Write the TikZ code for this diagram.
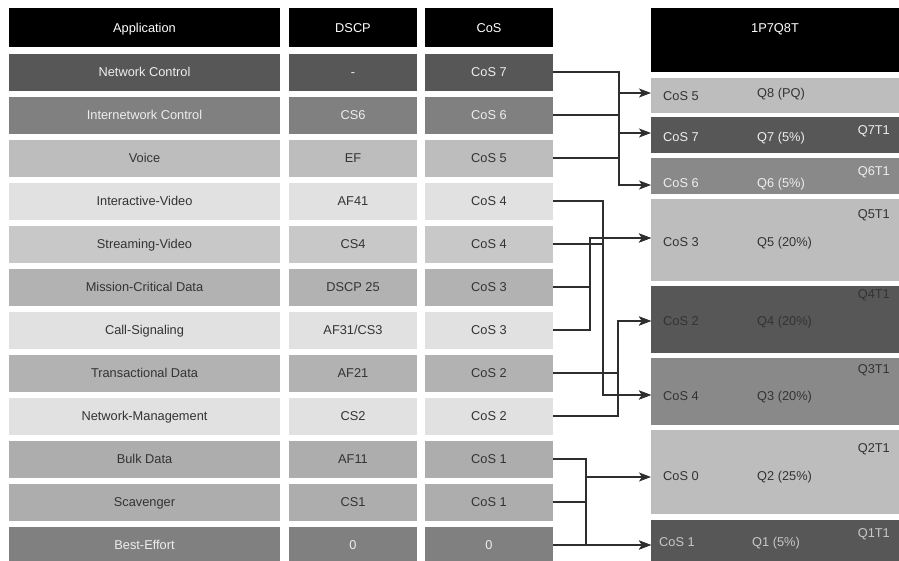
\documentclass[tikz,border=0pt]{standalone}
\usepackage{fontspec}
\setmainfont{Liberation Sans}
\usetikzlibrary{arrows.meta}
\definecolor{cDark}{HTML}{575757}
\definecolor{cMid}{HTML}{808080}
\definecolor{cMid2}{HTML}{898989}
\definecolor{cVoice}{HTML}{BDBDBD}
\definecolor{cLight}{HTML}{E1E1E1}
\definecolor{cStream}{HTML}{C8C8C8}
\definecolor{cMiss}{HTML}{B2B2B2}
\definecolor{cBulk}{HTML}{ADADAD}
\definecolor{txtD}{HTML}{333333}
\definecolor{txtL}{HTML}{EEEEEE}
\definecolor{txtL2}{HTML}{C8C8C8}
\definecolor{lineC}{HTML}{2E2E2E}
\begin{document}
\begin{tikzpicture}[x=1pt,y=-1pt,
  font=\fontsize{12.8}{15}\selectfont,
  every node/.style={text height=10.6pt, text depth=1.4pt},
  cell/.style={inner sep=0pt, outer sep=0pt, minimum height=37pt, text=txtD},
  appc/.style={cell, minimum width=271pt},
  numc/.style={cell, minimum width=128pt},
  hdr/.style={inner sep=0pt, outer sep=0pt, minimum height=39pt, fill=black, text=white},
  qbox/.style={inner sep=0pt, outer sep=0pt, anchor=north west, minimum width=248pt, text height=, text depth=},
  qtxt/.style={inner sep=0pt, anchor=west},
  ttxt/.style={inner sep=0pt, anchor=east},
  rDark/.style={fill=cDark, text=txtL},
  rMid/.style={fill=cMid, text=txtL},
  conn/.style={draw=lineC, line width=1.1pt},
  arr/.style={conn, -{Stealth[length=12pt,width=9pt,inset=3pt]}}]
\useasboundingbox (0,0) rectangle (899,560);
% headers
\node[hdr, minimum width=271pt] (h1) at (144.5,27.5) {Application};
\node[hdr, minimum width=128pt] (h2) at (353,27.5) {DSCP};
\node[hdr, minimum width=128pt] (h3) at (489,27.5) {CoS};
\node[qbox, minimum height=64pt, fill=black] (h4) at (651,8) {};
\node[inner sep=0pt, text=white] (h4t) at (775,28) {1P7Q8T};
% rows
\node[appc, rDark] (a0) at (144.5,72) {Network Control};
\node[numc, rDark] (d0) at (353,72) {-};
\node[numc, rDark] (c0) at (489,72) {CoS 7};
\node[appc, rMid] (a1) at (144.5,115) {Internetwork Control};
\node[numc, rMid] (d1) at (353,115) {CS6};
\node[numc, rMid] (c1) at (489,115) {CoS 6};
\node[appc, fill=cVoice] (a2) at (144.5,158) {Voice};
\node[numc, fill=cVoice] (d2) at (353,158) {EF};
\node[numc, fill=cVoice] (c2) at (489,158) {CoS 5};
\node[appc, fill=cLight] (a3) at (144.5,201) {Interactive-Video};
\node[numc, fill=cLight] (d3) at (353,201) {AF41};
\node[numc, fill=cLight] (c3) at (489,201) {CoS 4};
\node[appc, fill=cStream] (a4) at (144.5,244) {Streaming-Video};
\node[numc, fill=cStream] (d4) at (353,244) {CS4};
\node[numc, fill=cStream] (c4) at (489,244) {CoS 4};
\node[appc, fill=cMiss] (a5) at (144.5,287) {Mission-Critical Data};
\node[numc, fill=cMiss] (d5) at (353,287) {DSCP 25};
\node[numc, fill=cMiss] (c5) at (489,287) {CoS 3};
\node[appc, fill=cLight] (a6) at (144.5,330) {Call-Signaling};
\node[numc, fill=cLight] (d6) at (353,330) {AF31/CS3};
\node[numc, fill=cLight] (c6) at (489,330) {CoS 3};
\node[appc, fill=cMiss] (a7) at (144.5,373) {Transactional Data};
\node[numc, fill=cMiss] (d7) at (353,373) {AF21};
\node[numc, fill=cMiss] (c7) at (489,373) {CoS 2};
\node[appc, fill=cLight] (a8) at (144.5,416) {Network-Management};
\node[numc, fill=cLight] (d8) at (353,416) {CS2};
\node[numc, fill=cLight] (c8) at (489,416) {CoS 2};
\node[appc, fill=cBulk] (a9) at (144.5,459) {Bulk Data};
\node[numc, fill=cBulk] (d9) at (353,459) {AF11};
\node[numc, fill=cBulk] (c9) at (489,459) {CoS 1};
\node[appc, fill=cBulk] (a10) at (144.5,502) {Scavenger};
\node[numc, fill=cBulk] (d10) at (353,502) {CS1};
\node[numc, fill=cBulk] (c10) at (489,502) {CoS 1};
\node[appc, rMid] (a11) at (144.5,545) {Best-Effort};
\node[numc, rMid] (d11) at (353,545) {0};
\node[numc, rMid] (c11) at (489,545) {0};
% queue boxes
\node[qbox, fill=cVoice, minimum height=35pt] (q8) at (651,78) {};
\node[qbox, fill=cDark, minimum height=36pt] (q7) at (651,117) {};
\node[qbox, fill=cMid2, minimum height=36pt] (q6) at (651,158) {};
\node[qbox, fill=cVoice, minimum height=82pt] (q5) at (651,199) {};
\node[qbox, fill=cDark, minimum height=67pt] (q4) at (651,286) {};
\node[qbox, fill=cMid2, minimum height=67pt] (q3) at (651,358) {};
\node[qbox, fill=cVoice, minimum height=84pt] (q2) at (651,430) {};
\node[qbox, fill=cDark, minimum height=45pt] (q1) at (651,520) {};
% queue texts
\node[qtxt, text=txtD] (q8a) at (663,96) {CoS 5};
\node[qtxt, text=txtD] (q8b) at (757,93) {Q8 (PQ)};
\node[qtxt, text=txtL] (q7a) at (663,137) {CoS 7};
\node[qtxt, text=txtL] (q7b) at (757,137) {Q7 (5\%)};
\node[ttxt, text=txtL] (q7c) at (890,130) {Q7T1};
\node[qtxt, text=txtL] (q6a) at (663,183) {CoS 6};
\node[qtxt, text=txtL] (q6b) at (757,183) {Q6 (5\%)};
\node[ttxt, text=txtL] (q6c) at (890,171) {Q6T1};
\node[qtxt, text=txtD] (q5a) at (663,242) {CoS 3};
\node[qtxt, text=txtD] (q5b) at (757,242) {Q5 (20\%)};
\node[ttxt, text=txtD] (q5c) at (890,214) {Q5T1};
\node[qtxt, text=txtD] (q4a) at (663,321) {CoS 2};
\node[qtxt, text=txtD] (q4b) at (757,321) {Q4 (20\%)};
\node[ttxt, text=txtD] (q4c) at (890,294) {Q4T1};
\node[qtxt, text=txtD] (q3a) at (663,396) {CoS 4};
\node[qtxt, text=txtD] (q3b) at (757,396) {Q3 (20\%)};
\node[ttxt, text=txtD] (q3c) at (890,369) {Q3T1};
\node[qtxt, text=txtD] (q2a) at (663,476) {CoS 0};
\node[qtxt, text=txtD] (q2b) at (757,476) {Q2 (25\%)};
\node[ttxt, text=txtD] (q2c) at (890,448) {Q2T1};
\node[qtxt, text=txtL2] (q1a) at (659,542) {CoS 1};
\node[qtxt, text=txtL2] (q1b) at (752,542) {Q1 (5\%)};
\node[ttxt, text=txtL2] (q1c) at (890,533) {Q1T1};
% arrow targets and bus positions
\coordinate (t8) at (651,93);
\coordinate (t7) at (651,133);
\coordinate (t6) at (651,185);
\coordinate (t5) at (651,238);
\coordinate (t4) at (651,321);
\coordinate (t3) at (651,395);
\coordinate (t2) at (651,477);
\coordinate (t1) at (651,545);
\coordinate (bA) at (619,0);
\coordinate (bB) at (590,0);
\coordinate (bC) at (603,0);
\coordinate (bD) at (618,0);
\coordinate (bE) at (586,0);
% connectors
\draw[arr] (c0.east) -- (c0.east -| bA) |- (t7);
\draw[arr] (c1.east) -- (c1.east -| bA) |- (t6);
\draw[arr] (c2.east) -- (c2.east -| bA) |- (t8);
\draw[arr] (c3.east) -- (c3.east -| bC) |- (t3);
\draw[arr] (c4.east) -- (c4.east -| bC) |- (t3);
\draw[arr] (c5.east) -- (c5.east -| bB) |- (t5);
\draw[arr] (c6.east) -- (c6.east -| bB) |- (t5);
\draw[arr] (c7.east) -- (c7.east -| bD) |- (t4);
\draw[arr] (c8.east) -- (c8.east -| bD) |- (t4);
\draw[arr] (c9.east) -- (c9.east -| bE) |- (t1);
\draw[arr] (c10.east) -- (c10.east -| bE) |- (t1);
\draw[arr] (c11.east) -- (c11.east -| bE) |- (t2);
\end{tikzpicture}
\end{document}
